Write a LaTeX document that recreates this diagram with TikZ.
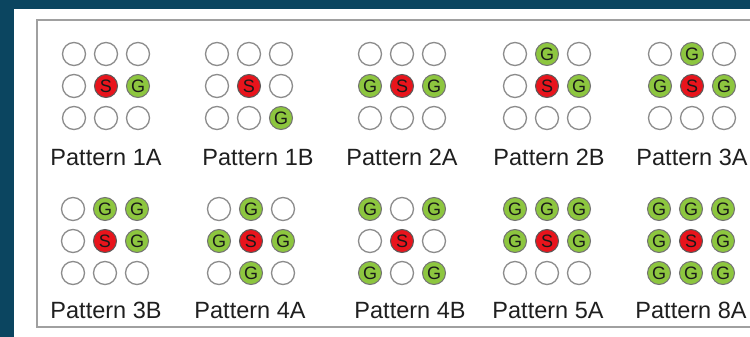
\documentclass[tikz,border=0pt]{standalone}
\usepackage{fontspec}
\setmainfont{Liberation Sans}
\definecolor{bgteal}{HTML}{0B4560}
\definecolor{sred}{HTML}{E8141C}
\definecolor{ggreen}{HTML}{8DC63F}
\definecolor{ringgrey}{HTML}{8C8C8C}
\definecolor{framegrey}{HTML}{A0A0A0}
\newcommand\cellgrid[4]{%
  \foreach \c [count=\i from 0] in {#4} {
    \pgfmathtruncatemacro\col{mod(\i,3)}
    \pgfmathtruncatemacro\row{div(\i,3)}
    \node[\c] (#1-\i) at ({#2+(\col-1)*32},{#3+(\row-1)*32}) {\csname txt\c\endcsname};
  }
}
\newcommand\txtec{}
\newcommand\txtsc{S}
\newcommand\txtgc{G}
\begin{document}
\begin{tikzpicture}[x=1pt,y=-1pt,
  cell/.style={circle,minimum size=23pt,inner sep=0pt,font=\fontsize{18}{18}\selectfont,text=black!90},
  ec/.style={cell,draw=ringgrey,line width=1.3pt,fill=white},
  sc/.style={cell,draw=black!65,line width=1pt,fill=sred},
  gc/.style={cell,draw=black!55,line width=1pt,fill=ggreen},
  lab/.style={anchor=base,font=\fontsize{23.5}{24}\selectfont,text=black!88}]
\useasboundingbox (0,0) rectangle (750,337);
\fill[bgteal] (0,0) rectangle (750,337);
\fill[white] (14,9) rectangle (750,337);
\draw[framegrey,line width=1.6pt] (752,20) -- (37,20) -- (37,327) -- (752,327);
\cellgrid{p1A}{106}{86}{ec,ec,ec,ec,sc,gc,ec,ec,ec}
\cellgrid{p1B}{249}{86}{ec,ec,ec,ec,sc,ec,ec,ec,gc}
\cellgrid{p2A}{402}{86}{ec,ec,ec,gc,sc,gc,ec,ec,ec}
\cellgrid{p2B}{547}{86}{ec,gc,ec,ec,sc,gc,ec,ec,ec}
\cellgrid{p3A}{692}{86}{ec,gc,ec,gc,sc,gc,ec,ec,ec}
\cellgrid{p3B}{105}{241}{ec,gc,gc,ec,sc,gc,ec,ec,ec}
\cellgrid{p4A}{251}{241}{ec,gc,ec,gc,sc,gc,ec,gc,ec}
\cellgrid{p4B}{402}{241}{gc,ec,gc,ec,sc,ec,gc,ec,gc}
\cellgrid{p5A}{547}{241}{gc,gc,gc,gc,sc,gc,ec,ec,ec}
\cellgrid{p8A}{691}{241}{gc,gc,gc,gc,sc,gc,gc,gc,gc}
\node[lab] (l1A) at (106,165) {Pattern 1A};
\node[lab] (l1B) at (258,165) {Pattern 1B};
\node[lab] (l2A) at (402,165) {Pattern 2A};
\node[lab] (l2B) at (549,165) {Pattern 2B};
\node[lab] (l3A) at (692,165) {Pattern 3A};
\node[lab] (l3B) at (106,318) {Pattern 3B};
\node[lab] (l4A) at (250,318) {Pattern 4A};
\node[lab] (l4B) at (410,318) {Pattern 4B};
\node[lab] (l5A) at (548,318) {Pattern 5A};
\node[lab] (l8A) at (691,318) {Pattern 8A};
\end{tikzpicture}
\end{document}
